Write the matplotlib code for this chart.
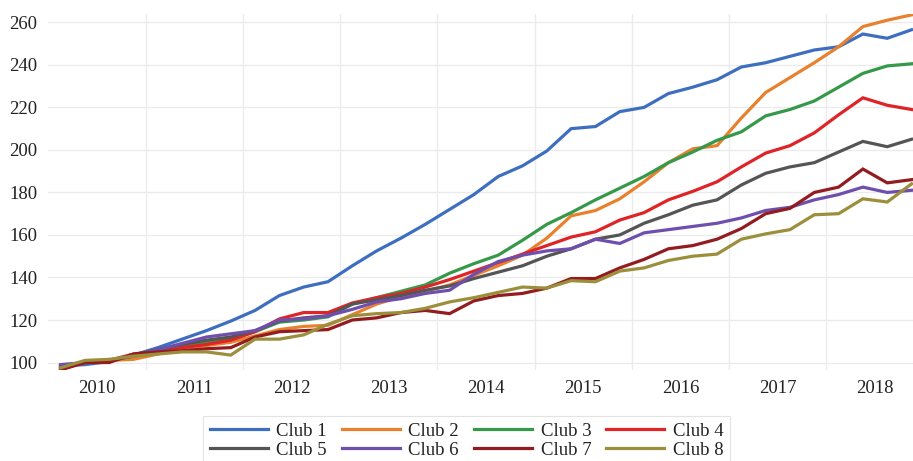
import numpy as np
import pandas as pd
import matplotlib
matplotlib.use('Agg')
import matplotlib.pyplot as plt
from matplotlib.ticker import FixedLocator, NullFormatter, FixedFormatter

# quarterly index, 2010Q1 - 2018Q4
quarters = pd.period_range('2010Q1', '2018Q4', freq='Q')
years = [2010, 2011, 2012, 2013, 2014, 2015, 2016, 2017, 2018]

club1 = [98.5, 99, 100.5, 103.5, 107, 111, 115, 119.5, 124.5, 131.5, 135.5, 138,
         145.5, 152.5, 158.5, 165, 172, 179, 187.5, 192.5, 199.5, 210, 211, 218,
         220, 226.5, 229.5, 233, 239, 241, 244, 247, 248.5, 254.5, 252.5, 256.5]
club2 = [97.5, 100, 101, 101.5, 104, 106.5, 108, 109.5, 112.5, 115.5, 117, 117.5,
         122.5, 127.5, 131, 133.5, 136.5, 141, 145.5, 150.5, 158.5, 169, 171.5, 177,
         185, 194, 200.5, 202, 215, 227, 234, 241, 248.5, 258, 261, 263.5]
club3 = [98, 100, 101, 103, 105, 107.5, 109.5, 111.5, 114.5, 119, 120, 121.5,
         127.5, 130.5, 133.5, 136.5, 142, 146.5, 150.5, 157.5, 165, 170.5, 176.5, 182,
         187.5, 194, 199, 204.5, 208.5, 216, 219, 223, 229.5, 236, 239.5, 240.5]
club4 = [97, 100, 101, 104, 105.5, 107, 108.5, 110.5, 114.5, 120.5, 123.5, 123.5,
         128, 130.5, 132.5, 135.5, 139, 143, 147, 151, 155, 159, 161.5, 167,
         170.5, 176.5, 180.5, 185, 192, 198.5, 202, 208, 216.5, 224.5, 221, 219]
club5 = [98.5, 100, 101, 103.5, 106, 108.5, 110.5, 112, 115, 119.5, 121, 122,
         127.5, 129.5, 131.5, 134, 136, 139.5, 142.5, 145.5, 150, 153.5, 158, 160,
         165.5, 169.5, 174, 176.5, 183.5, 189, 192, 194, 199, 204, 201.5, 205]
club6 = [99, 100, 101, 103, 106, 109, 112, 113.5, 115, 120, 120.5, 122,
         125, 128.5, 130, 132.5, 134, 141.5, 147.5, 150.5, 152.5, 153.5, 158, 156,
         161, 162.5, 164, 165.5, 168, 171.5, 173, 176.5, 179, 182.5, 180, 181]
club7 = [96.5, 100, 100, 104, 105, 105.5, 106.5, 107, 112, 114.5, 115, 115.5,
         120, 121, 123.5, 124.5, 123, 129, 131.5, 132.5, 135, 139.5, 139.5, 144.5,
         148.5, 153.5, 155, 158, 163, 170, 172.5, 180, 182.5, 191, 184.5, 186]
club8 = [97.5, 101, 101.5, 103, 104, 105, 105, 103.5, 111, 111, 113, 118,
         122, 123, 123.5, 125.5, 128.5, 130.5, 133, 135.5, 135, 138.5, 138, 143,
         144.5, 148, 150, 151, 158, 160.5, 162.5, 169.5, 170, 177, 175.5, 184]

labels = ['Club 1', 'Club 2', 'Club 3', 'Club 4', 'Club 5', 'Club 6', 'Club 7', 'Club 8']
colors = ['#3d6ebf', '#e8812d', '#36994a', '#df2428', '#555555', '#6e4fae', '#921c1f', '#9b8f3c']

series = [club1, club2, club3, club4, club5, club6, club7, club8]

# decimal year at the middle of each quarter
x = quarters.year + (quarters.quarter - 0.5) / 4.0

plt.rcParams['font.family'] = ['Liberation Serif', 'DejaVu Serif']
fs = 13.5
txt = '#222222'

fig = plt.figure(figsize=(9.13, 4.61), dpi=100)
ax = fig.add_axes([0.053, 0.197, 0.947, 0.773])

lines = []
for vals, lab, col in zip(series, labels, colors):
    ln, = ax.plot(x, vals, color=col, lw=2.3, label=lab, solid_joinstyle='miter')
    lines.append(ln)

ax.set_xlim(2010.0, 2018.89)
ax.set_ylim(96.4, 264)

# gridlines on year boundaries, year labels centred in the year
ax.xaxis.set_major_locator(FixedLocator([y + 1 for y in years[:-1]]))
ax.xaxis.set_major_formatter(NullFormatter())
ax.xaxis.set_minor_locator(FixedLocator([y + 0.5 for y in years]))
ax.xaxis.set_minor_formatter(FixedFormatter([str(y) for y in years]))
ax.set_yticks(np.arange(100, 261, 20))

ax.tick_params(axis='x', which='both', length=0, labelsize=fs, colors=txt, pad=7)
ax.tick_params(axis='y', length=0, labelsize=fs, colors=txt, pad=8)

ax.grid(True, which='major', color='#ebebeb', lw=1.0)
ax.set_axisbelow(True)
for s in ax.spines.values():
    s.set_visible(False)

# legend is filled column by column, so reorder to read row by row
order = [0, 4, 1, 5, 2, 6, 3, 7]
leg = fig.legend([lines[i] for i in order], [labels[i] for i in order],
                 loc='upper center', bbox_to_anchor=(0.511, 0.098), ncol=4,
                 fontsize=fs, frameon=True, fancybox=False, edgecolor='#dddddd',
                 handlelength=3.1, handletextpad=0.45, columnspacing=0.8,
                 labelspacing=0.12, borderpad=0.35, borderaxespad=0)
leg.get_frame().set_linewidth(0.8)
for t in leg.get_texts():
    t.set_color(txt)

plt.savefig('out.png', dpi=100)
